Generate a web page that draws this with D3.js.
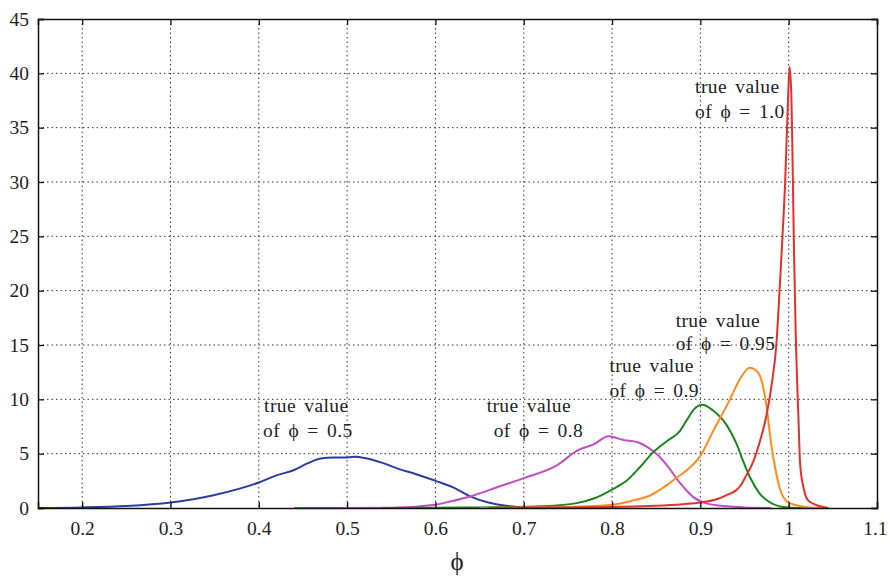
<!DOCTYPE html>
<html><head><meta charset="utf-8">
<script src="https://cdn.jsdelivr.net/npm/d3@7"></script>
<style>body{margin:0;background:#fff}svg{display:block}text{font-family:"Liberation Serif","Times New Roman",Times,serif;fill:#222}</style>
</head><body><svg id="c" width="888" height="577"></svg>
<script>
const xTicks = [0.2,0.3,0.4,0.5,0.6,0.7,0.8,0.9,1.0,1.1];
const xTickLabels = ["0.2","0.3","0.4","0.5","0.6","0.7","0.8","0.9","1","1.1"];
const yTicks = [0,5,10,15,20,25,30,35,40,45];

const blue = [[0.15,0],[0.2,0.05],[0.25,0.18],[0.3,0.5],[0.35,1.2],[0.4,2.35],[0.42,3.0],[0.44,3.5],[0.455,4.1],[0.47,4.55],[0.485,4.65],[0.5,4.65],[0.51,4.72],[0.52,4.6],[0.54,4.15],[0.56,3.55],[0.575,3.2],[0.6,2.5],[0.62,1.9],[0.64,1.05],[0.66,0.5],[0.68,0.2],[0.7,0.05],[0.72,0]];
const magenta = [[0.44,0],[0.55,0.02],[0.6,0.3],[0.617,0.6],[0.643,1.15],[0.673,2.0],[0.7,2.75],[0.738,3.95],[0.761,5.3],[0.779,5.85],[0.796,6.6],[0.813,6.25],[0.829,6.05],[0.84,5.6],[0.851,4.95],[0.862,3.95],[0.877,2.3],[0.892,1.0],[0.908,0.4],[0.93,0.15],[0.95,0.05],[0.98,0]];
const green = [[0.54,0],[0.6,0.02],[0.65,0.05],[0.7,0.1],[0.72,0.15],[0.76,0.45],[0.78,0.9],[0.8,1.7],[0.817,2.55],[0.832,3.8],[0.845,5.0],[0.862,6.15],[0.877,7.1],[0.884,8.0],[0.893,9.1],[0.902,9.5],[0.914,9.0],[0.93,7.6],[0.941,5.9],[0.948,4.4],[0.956,2.85],[0.967,1.35],[0.978,0.55],[0.99,0.15],[1.0,0.05],[1.02,0]];
const orange = [[0.65,0],[0.7,0.05],[0.75,0.1],[0.8,0.3],[0.824,0.7],[0.843,1.15],[0.862,2.1],[0.874,2.85],[0.885,3.5],[0.9,4.8],[0.914,7.0],[0.933,9.9],[0.945,11.9],[0.956,12.9],[0.965,12.5],[0.97,11.5],[0.975,9.3],[0.98,6.0],[0.984,4.0],[0.99,1.8],[0.998,0.6],[1.009,0.25],[1.024,0.05],[1.045,0]];
const red = [[0.66,0],[0.75,0.05],[0.8,0.1],[0.85,0.2],[0.88,0.35],[0.9,0.5],[0.92,0.85],[0.93,1.2],[0.94,1.6],[0.945,2.0],[0.952,3.0],[0.96,4.3],[0.967,6.0],[0.975,8.6],[0.981,11.5],[0.986,15],[0.99,20.5],[0.993,25],[0.996,30],[0.999,37],[1.001,40.6],[1.003,38],[1.004,34],[1.006,23.7],[1.008,16],[1.011,8.4],[1.013,4.0],[1.017,1.8],[1.022,0.7],[1.032,0.25],[1.045,0]];

const seriesNames = ["0.5","0.8","0.9","0.95","1.0"];
const seriesData = [blue, magenta, green, orange, red];
const seriesColors = ["#2b3d9e","#c24cc2","#1b871b","#ff8a20","#e6302a"];
const annotations = [
  {lines:["true value","of \u03d5 = 0.5"], x:0.406, y:[8.8,6.55], dx:[0,-1]},
  {lines:["true value","of \u03d5 = 0.8"], x:0.658, y:[8.8,6.55], dx:[0,7]},
  {lines:["true value","of \u03d5 = 0.9"], x:0.797, y:[12.5,10.2], dx:[0,0]},
  {lines:["true value","of \u03d5 = 0.95"], x:0.872, y:[16.7,14.5], dx:[0,0]},
  {lines:["true value","of \u03d5 = 1.0"], x:0.894, y:[38.2,35.9], dx:[0,0]}
];

const svg = d3.select("#c");
const L=38, R=877, T=19, B=508;
const x = d3.scaleLinear().domain([0.15,1.1]).range([L,R]);
const y = d3.scaleLinear().domain([0,45]).range([B,T]);

const grid = svg.append("g");
grid.selectAll("line.vx").data(xTicks.filter(d=>d<1.1)).join("line")
  .attr("x1",d=>x(d)).attr("x2",d=>x(d)).attr("y1",T).attr("y2",B)
  .attr("stroke","#333").attr("stroke-width",1).attr("stroke-dasharray","1.5,3");
grid.selectAll("line.hy").data(yTicks.filter(d=>d>0&&d<45)).join("line")
  .attr("y1",d=>y(d)).attr("y2",d=>y(d)).attr("x1",L).attr("x2",R)
  .attr("stroke","#333").attr("stroke-width",1).attr("stroke-dasharray","1.5,3");

const line = d3.line().x(d=>x(d[0])).y(d=>y(d[1])).curve(d3.curveMonotoneX);
svg.append("g").selectAll("path").data(seriesData).join("path")
  .attr("d",line).attr("fill","none")
  .attr("stroke",(d,i)=>seriesColors[i]).attr("stroke-width",2);

const fmt = (d)=>xTickLabels[xTicks.indexOf(d)];
const ax = d3.axisBottom(x).tickValues(xTicks).tickSize(-6).tickPadding(13).tickFormat(fmt);
const gx = svg.append("g").attr("transform",`translate(0,${B})`).call(ax);
const axT = d3.axisTop(x).tickValues(xTicks).tickSize(-6).tickFormat("");
svg.append("g").attr("transform",`translate(0,${T})`).call(axT);
const ay = d3.axisLeft(y).tickValues(yTicks).tickSize(-6).tickPadding(9);
svg.append("g").attr("transform",`translate(${L},0)`).call(ay);
const ayR = d3.axisRight(y).tickValues(yTicks).tickSize(-6).tickFormat("");
svg.append("g").attr("transform",`translate(${R},0)`).call(ayR);
svg.selectAll(".domain").attr("stroke","#111").attr("stroke-width",1.5);
svg.selectAll(".tick line").attr("stroke","#111").attr("stroke-width",1.3);
svg.selectAll(".tick text").attr("font-size",19.5).attr("fill","#222");
// keep the last x label inside the frame of the page
gx.selectAll(".tick text").filter(d=>d===1.1).attr("text-anchor","end").attr("dx","10");

annotations.forEach(a=>{
  a.lines.forEach((s,i)=>{
    svg.append("text").attr("x",x(a.x)+a.dx[i]).attr("y",y(a.y[i]))
      .attr("font-size",19.5).attr("letter-spacing","0.4px").attr("word-spacing","3px").text(s);
  });
});

svg.append("text").attr("x",457).attr("y",570).attr("text-anchor","middle")
  .attr("font-size",25).text("\u03d5");
</script></body></html>
